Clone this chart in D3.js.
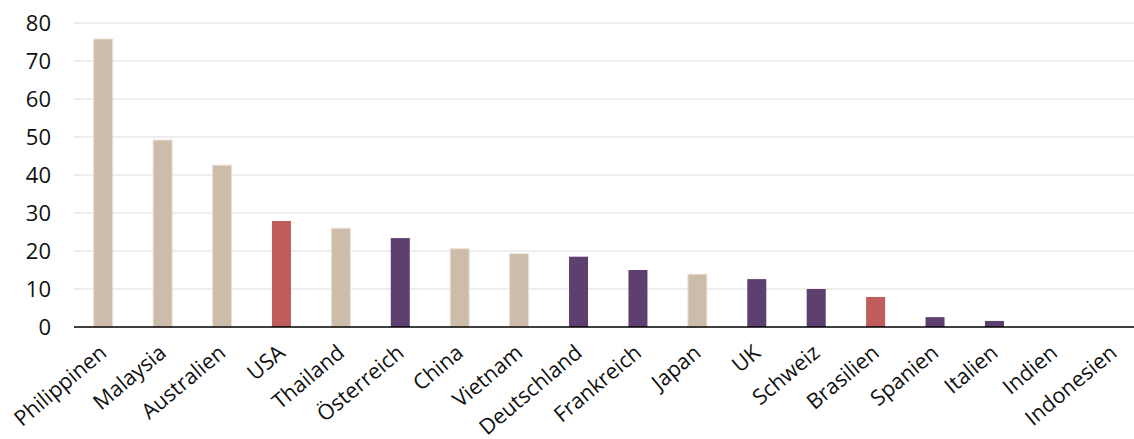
<!DOCTYPE html>
<html><head><meta charset="utf-8">
<script src="https://cdn.jsdelivr.net/npm/d3@7"></script>
<style>body{margin:0;background:#fff}svg{display:block;font-family:"Open Sans",sans-serif}</style>
</head><body><svg id="c" width="1134" height="439"></svg>
<script>
const categories=["Philippinen","Malaysia","Australien","USA","Thailand","Österreich","China","Vietnam","Deutschland","Frankreich","Japan","UK","Schweiz","Brasilien","Spanien","Italien","Indien","Indonesien"];
const values=[75.8,49.2,42.6,27.9,26.0,23.4,20.6,19.3,18.5,15.0,13.9,12.6,10.0,7.9,2.6,1.6,0,0];
const groups=["a","a","a","r","a","p","a","a","p","p","a","p","p","r","p","p","p","p"];
const yTicks=[0,10,20,30,40,50,60,70,80];
const colors={a:"#cdbcaa",r:"#c05c5b",p:"#5e4070"};

const svg=d3.select("#c");
const x=d3.scaleBand().domain(categories).range([73.5,1143]).paddingInner(0.68).paddingOuter(0.34);
const y=d3.scaleLinear().domain([0,80]).range([327,23]);

svg.append("g").selectAll("line").data(yTicks.filter(d=>d>0)).join("line")
 .attr("x1",74).attr("x2",1134).attr("y1",d=>y(d)).attr("y2",d=>y(d))
 .attr("stroke","#dddddd").attr("stroke-width",1);

svg.append("g").selectAll("rect").data(values).join("rect")
 .attr("x",(d,i)=>x(categories[i])).attr("width",x.bandwidth())
 .attr("y",d=>y(d)).attr("height",d=>y(0)-y(d))
 .attr("fill",(d,i)=>colors[groups[i]])
 .attr("stroke",(d,i)=>groups[i]==="a"?"#ebe2d8":"none").attr("stroke-width",1);

svg.append("line").attr("x1",74).attr("x2",1134).attr("y1",y(0)).attr("y2",y(0)).attr("stroke","#000").attr("stroke-width",1.5);

svg.append("g").selectAll("text").data(yTicks).join("text")
 .attr("x",51).attr("y",d=>y(d)).attr("dy","0.36em").attr("text-anchor","end")
 .attr("font-size",22).attr("fill","#111").text(d=>d);

svg.append("g").selectAll("text").data(categories).join("text")
 .attr("transform",d=>`translate(${x(d)+x.bandwidth()/2+5},${y(0)+28}) rotate(-40)`)
 .attr("text-anchor","end").attr("font-size",21.5).attr("fill","#111").text(d=>d);
</script></body></html>
